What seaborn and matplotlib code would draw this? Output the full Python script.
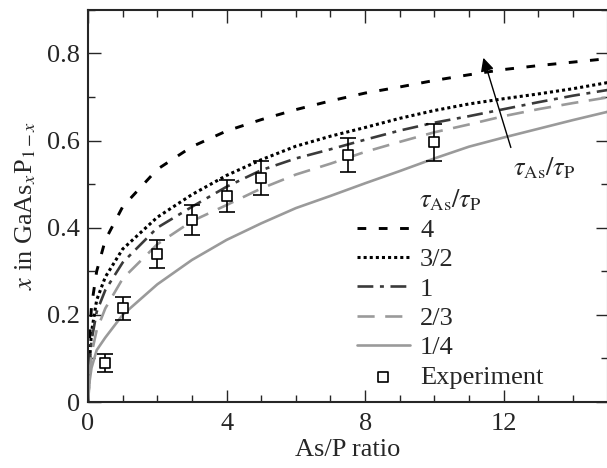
import numpy as np
import pandas as pd
import matplotlib
matplotlib.use('Agg')
import matplotlib.pyplot as plt
import seaborn as sns

# ── Data ──────────────────────────────────────────────────────────────────────
ratio = [0, 0.05, 0.1, 0.25, 0.5, 1, 2, 3, 4, 5, 6, 7, 8, 9, 10, 11, 12, 13, 14, 15]

x_tau_4   = [0, 0.15, 0.22, 0.30, 0.372, 0.448, 0.534, 0.586, 0.622, 0.648, 0.671, 0.691,
             0.709, 0.723, 0.738, 0.751, 0.763, 0.772, 0.780, 0.788]
x_tau_3_2 = [0, 0.10, 0.16, 0.234, 0.287, 0.351, 0.424, 0.476, 0.520, 0.556, 0.587, 0.610,
             0.630, 0.651, 0.669, 0.684, 0.696, 0.707, 0.719, 0.733]
x_tau_1   = [0, 0.09, 0.14, 0.207, 0.257, 0.320, 0.400, 0.448, 0.494, 0.532, 0.559, 0.580,
             0.602, 0.623, 0.641, 0.656, 0.672, 0.688, 0.703, 0.716]
x_tau_2_3 = [0, 0.07, 0.11, 0.165, 0.215, 0.283, 0.362, 0.415, 0.452, 0.490, 0.522, 0.547,
             0.574, 0.597, 0.619, 0.637, 0.656, 0.672, 0.686, 0.699]
x_tau_1_4 = [0, 0.05, 0.078, 0.119, 0.148, 0.200, 0.270, 0.326, 0.372, 0.410, 0.445, 0.473,
             0.502, 0.530, 0.559, 0.586, 0.607, 0.627, 0.647, 0.666]

exp_ratio = [0.5, 1, 2, 3, 4, 5, 7.5, 10]
exp_x     = [0.089, 0.215, 0.339, 0.417, 0.472, 0.515, 0.567, 0.596]
exp_err   = [0.021, 0.027, 0.032, 0.034, 0.037, 0.039, 0.040, 0.043]

labels = ['4', '3/2', '1', '2/3', '1/4']
series = [x_tau_4, x_tau_3_2, x_tau_1, x_tau_2_3, x_tau_1_4]

# ── Style ─────────────────────────────────────────────────────────────────────
sns.set_style('ticks')
plt.rcParams['font.family'] = ['Liberation Serif', 'DejaVu Serif']
plt.rcParams['mathtext.fontset'] = 'stix'
plt.rcParams['font.size'] = 19
plt.rcParams['axes.linewidth'] = 1.5
plt.rcParams['xtick.direction'] = 'in'
plt.rcParams['ytick.direction'] = 'in'

styles = {
    '4':   dict(color='black',   lw=2.1, dashes=(3.0, 4.3)),
    '3/2': dict(color='black',   lw=2.2, dashes=(1.0, 1.0)),
    '1':   dict(color='#3a3a3a', lw=1.9, dashes=(6.0, 2.5, 1.5, 2.5)),
    '2/3': dict(color='#9a9a9a', lw=1.9, dashes=(6.5, 4.0)),
    '1/4': dict(color='#9a9a9a', lw=1.9, dashes=None),
}

fig = plt.figure(figsize=(6.07, 4.68), dpi=100)
ax = fig.add_axes([0.145, 0.141, 0.856, 0.838])

for lab, vals in zip(labels, series):
    df = pd.DataFrame({'ratio': ratio, 'x': vals})
    st = styles[lab]
    sns.lineplot(data=df, x='ratio', y='x', ax=ax, color=st['color'],
                 lw=st['lw'], label=lab)
    if st['dashes'] is not None:
        ax.lines[-1].set_dashes(st['dashes'])

ax.errorbar(exp_ratio, exp_x, yerr=exp_err, fmt='none', ecolor='black',
            elinewidth=1.2, capsize=6, capthick=1.2, zorder=4)
sns.scatterplot(x=exp_ratio, y=exp_x, ax=ax, marker='s', s=60, facecolor='white',
                edgecolor='black', linewidth=1.2, label='Experiment', zorder=5)

# ── Axes ──────────────────────────────────────────────────────────────────────
ax.set_xlim(0, 15)
ax.set_ylim(0, 0.9)
ax.set_xticks([0, 4, 8, 12])
ax.set_xticks(np.arange(0, 16, 1), minor=True)
ax.set_yticks([0, 0.2, 0.4, 0.6, 0.8])
ax.set_yticklabels(['0', '0.2', '0.4', '0.6', '0.8'])
ax.set_yticks(np.arange(0, 0.91, 0.1), minor=True)
ax.tick_params(which='both', top=True, right=True, width=1.0)
ax.tick_params(which='major', length=9)
ax.tick_params(axis='x', which='major', pad=8)
ax.tick_params(axis='y', which='major', pad=6)
ax.tick_params(which='minor', length=5)
ax.set_xlabel('As/P ratio', labelpad=3)
ax.set_ylabel(r'$x$ in GaAs$_x$P$_{1-x}$', labelpad=6)

# ── Arrow annotation ──────────────────────────────────────────────────────────
ax.annotate('', xy=(11.39, 0.796), xytext=(12.23, 0.578),
            arrowprops=dict(arrowstyle='-|>', lw=1.0, color='black', mutation_scale=20))
ax.text(13.18, 0.537, r'$\tau_{\rm As}/\tau_{\rm P}$', ha='center', va='center')

# ── Legend ────────────────────────────────────────────────────────────────────
leg = ax.legend(title=r'$\tau_{\rm As}/\tau_{\rm P}$', loc='center',
                bbox_to_anchor=(0.697, 0.291), frameon=False, handlelength=2.0,
                handletextpad=0.4, labelspacing=0.22, borderpad=0.2, fontsize=19,
                title_fontsize=19)

plt.savefig('out.png', dpi=100)
plt.close()
